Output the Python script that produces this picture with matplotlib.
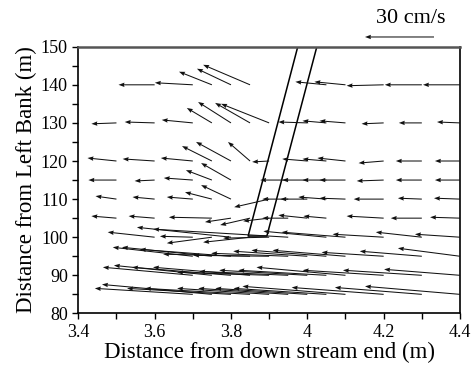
import numpy as np
import matplotlib
matplotlib.use('Agg')
from matplotlib import pyplot as plt
from matplotlib.ticker import MultipleLocator

plt.rcParams['font.family'] = 'Liberation Serif'

# velocity vectors per measured row: x (m), u and v (cm/s)
x140 = [3.6, 3.7, 3.75, 3.8, 3.85, 4.05, 4.1, 4.2, 4.3, 4.4]
u140 = [-15.7, -16.5, -14.3, -14.8, -20.4, -13.5, -13.5, -16.1, -16.1, -16.1]
v140 = [0.0, 0.9, 5.7, 7.0, 8.7, 1.3, 1.3, -0.4, 0.0, 0.0]

x130 = [3.5, 3.6, 3.7, 3.75, 3.8, 3.85, 3.9, 4.0, 4.05, 4.1, 4.2, 4.3, 4.4]
u130 = [-10.9, -13.0, -13.5, -10.9, -14.3, -15.2, -20.9, -12.6, -10.4, -11.3, -9.6, -10.0, -10.0]
v130 = [-0.4, 0.4, 1.3, 6.5, 9.1, 8.7, 8.3, 0.4, 0.9, 0.9, -0.4, 0.0, 0.4]

x120 = [3.5, 3.6, 3.7, 3.75, 3.8, 3.85, 3.9, 4.0, 4.05, 4.1, 4.2, 4.3, 4.4]
u120 = [-12.6, -13.9, -13.9, -13.0, -15.2, -9.6, -7.4, -10.9, -10.4, -12.2, -10.9, -11.3, -10.9]
v120 = [1.3, 0.9, 1.3, 6.5, 8.3, 8.3, -0.4, 0.9, 0.9, 1.3, -0.9, 0.0, 0.0]

x115 = [3.5, 3.6, 3.7, 3.75, 3.8, 3.95, 4.0, 4.05, 4.1, 4.2, 4.3, 4.4]
u115 = [-12.2, -8.7, -12.6, -11.3, -13.0, -12.2, -10.9, -10.4, -11.3, -11.7, -11.3, -10.9]
v115 = [0.0, -0.4, 0.9, 4.3, 7.4, 0.0, 0.0, 0.0, 0.0, -0.4, 0.0, 0.0]

x110 = [3.5, 3.6, 3.7, 3.75, 3.8, 3.9, 3.95, 4.0, 4.05, 4.1, 4.2, 4.3, 4.4]
u110 = [-9.1, -9.6, -11.3, -11.7, -13.0, -15.2, -11.3, -11.7, -12.2, -11.3, -13.0, -10.4, -11.3]
v110 = [1.3, 0.9, 0.9, 3.0, 6.1, -3.5, 0.0, 0.0, 0.9, 0.4, 0.0, 0.4, 0.4]

x105 = [3.5, 3.6, 3.75, 3.8, 3.85, 3.9, 3.95, 4.0, 4.05, 4.2, 4.3, 4.4]
u105 = [-10.9, -11.3, -18.7, -11.3, -13.0, -11.3, -11.3, -12.6, -10.0, -16.1, -13.5, -13.0]
v105 = [0.9, 0.9, 0.4, -1.7, -3.0, -1.3, 0.0, 1.3, 0.9, 0.9, 0.0, 0.4]

x100 = [3.6, 3.7, 3.75, 3.8, 3.85, 3.9, 3.95, 4.05, 4.1, 4.2, 4.3, 4.4]
u100 = [-20.4, -14.3, -19.6, -40.9, -20.4, -20.0, -58.7, -27.4, -27.8, -22.2, -20.0, -19.6]
v100 = [2.2, 0.4, -2.6, 4.3, -2.2, -0.4, 3.5, 2.6, 2.2, 1.3, 2.2, 1.3]

x95 = [3.7, 3.75, 3.8, 3.85, 3.9, 3.95, 4.0, 4.05, 4.1, 4.2, 4.3, 4.4]
u95 = [-34.8, -39.1, -39.6, -37.8, -33.0, -33.5, -32.2, -32.6, -31.7, -27.0, -27.0, -27.0]
v95 = [3.9, 3.9, 3.0, 0.9, 0.4, 1.3, 2.2, 2.6, 2.6, 1.7, 2.2, 3.5]

x90 = [3.7, 3.75, 3.8, 3.85, 3.9, 3.95, 4.0, 4.05, 4.1, 4.2, 4.3, 4.4]
u90 = [-39.1, -42.6, -43.0, -42.2, -40.0, -38.7, -38.3, -38.3, -38.7, -35.2, -34.3, -33.0]
v90 = [3.5, 4.3, 3.5, 3.5, 1.3, 1.7, 2.2, 2.2, 3.5, 2.2, 2.2, 2.6]

x85 = [3.7, 3.75, 3.8, 3.85, 3.9, 3.95, 4.0, 4.05, 4.1, 4.2, 4.3, 4.4]
u85 = [-42.6, -47.8, -45.2, -45.7, -40.0, -39.1, -40.0, -40.4, -44.8, -40.0, -37.8, -41.3]
v85 = [2.6, 4.3, 2.6, 2.6, 2.6, 2.6, 2.6, 2.6, 3.5, 3.0, 3.0, 3.5]

rows = [(140, x140, u140, v140), (130, x130, u130, v130), (120, x120, u120, v120),
        (115, x115, u115, v115), (110, x110, u110, v110), (105, x105, u105, v105),
        (100, x100, u100, v100), (95, x95, u95, v95), (90, x90, u90, v90),
        (85, x85, u85, v85)]

# structure outline (two parallel walls)
wall_x = [3.975, 3.845, 3.894, 4.025]
wall_y = [150, 100.3, 100.3, 150]

key_speed = 30

X, Y, U, V = [], [], [], []
for y, xs, us, vs in rows:
  X += xs
  Y += [y] * len(xs)
  U += us
  V += vs

fig = plt.figure(figsize=(4.73, 3.77), dpi=100)
ax = fig.add_axes([0.1655, 0.1687, 0.8070, 0.7074])

q = ax.quiver(X, Y, U, V, angles='uv', scale_units='x', scale=166,
              width=0.0027, headwidth=4.3, headlength=5.8, headaxislength=5.3,
              color='#111111', zorder=3)
ax.plot(wall_x, wall_y, color='k', lw=1.1, zorder=2)

ax.set_xlim(3.4, 4.4)
ax.set_ylim(80, 150)
ax.xaxis.set_major_locator(MultipleLocator(0.2))
ax.xaxis.set_minor_locator(MultipleLocator(0.1))
ax.yaxis.set_major_locator(MultipleLocator(10))
ax.yaxis.set_minor_locator(MultipleLocator(5))
ax.xaxis.set_major_formatter(plt.FuncFormatter(lambda v, p: '4' if abs(v - 4) < 1e-6 else '%.1f' % v))
ax.tick_params(which='both', direction='out', length=4, width=1, labelsize=13, top=False, right=False)
for s in ax.spines.values():
  s.set_linewidth(1.2)
ax.spines['top'].set_color('#555555')
ax.spines['top'].set_linewidth(1.8)

ax.set_xlabel('Distance from down stream end (m)', fontsize=16.5, labelpad=1)
ax.set_ylabel('Distance from Left Bank (m)', fontsize=16.5, labelpad=3)

ax.quiverkey(q, 0.8446, 0.9019, key_speed, '', angle=180, coordinates='figure', labelpos='N')
fig.text(0.869, 0.952, '30 cm/s', fontsize=16, ha='center', va='center')

fig.savefig('out.png', dpi=100)
